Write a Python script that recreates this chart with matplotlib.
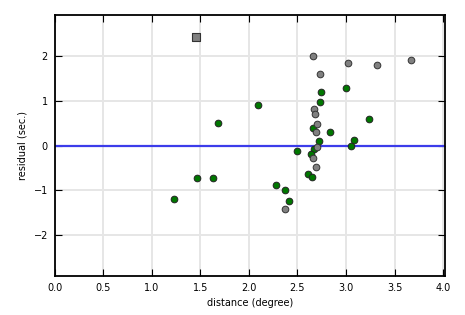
import matplotlib
matplotlib.use("Agg")
import matplotlib.pyplot as plt

# green points (distance, residual)
green_x = [1.677, 2.739, 2.997, 2.093, 2.729, 3.237, 2.660, 2.832, 2.718, 3.082, 3.050,
           2.667, 2.495, 2.636, 2.605, 2.646, 2.275, 2.368, 2.412, 1.464, 1.626, 1.224]
green_y = [0.49, 1.20, 1.27, 0.91, 0.96, 0.60, 0.40, 0.29, 0.11, 0.13, 0.00,
           -0.07, -0.13, -0.19, -0.64, -0.71, -0.87, -1.00, -1.24, -0.73, -0.73, -1.18]
# gray points
gray_x = [2.660, 3.017, 3.316, 3.667, 2.729, 2.670, 2.680, 2.698, 2.690, 2.700, 2.660, 2.688, 2.368]
gray_y = [2.00, 1.84, 1.80, 1.91, 1.58, 0.82, 0.71, 0.47, 0.29, -0.04, -0.28, -0.47, -1.42]
# square marker
sq_x = [1.457]
sq_y = [2.41]

xticks = [0.0, 0.5, 1.0, 1.5, 2.0, 2.5, 3.0, 3.5, 4.0]
yticks = [-2, -1, 0, 1, 2]

fig = plt.figure(figsize=(4.65, 3.15), dpi=100)
ax = fig.add_axes([0.118, 0.124, 0.839, 0.828])

ax.grid(True, color='#e6e6e6', linewidth=1.4, zorder=0)
ax.axhline(0, color='#3c3cea', linewidth=1.6, zorder=2)

ax.scatter(green_x, green_y, s=23, c='#007700', edgecolors='#222222', linewidths=0.7, zorder=3)
ax.scatter(gray_x, gray_y, s=23, c='#808080', edgecolors='#333333', linewidths=0.7, zorder=3)
ax.scatter(sq_x, sq_y, s=30, marker='s', c='#808080', edgecolors='#333333', linewidths=0.8, zorder=3)

ax.set_xlim(0, 4.02)
ax.set_ylim(-2.9, 2.9)
ax.set_xticks(xticks)
ax.set_xticklabels([f"{t:.1f}" for t in xticks])
ax.set_yticks(yticks)
ax.set_yticklabels(["\u22122", "\u22121", "0", "1", "2"])
ax.tick_params(direction='in', top=True, right=True, labelsize=7, length=5, width=0.8, pad=5)
for s in ax.spines.values():
    s.set_linewidth(1.3)
ax.set_xlabel("distance (degree)", fontsize=7)
ax.set_ylabel("residual (sec.)", fontsize=7)
ax.set_axisbelow(True)

fig.savefig("out.png", dpi=100)
